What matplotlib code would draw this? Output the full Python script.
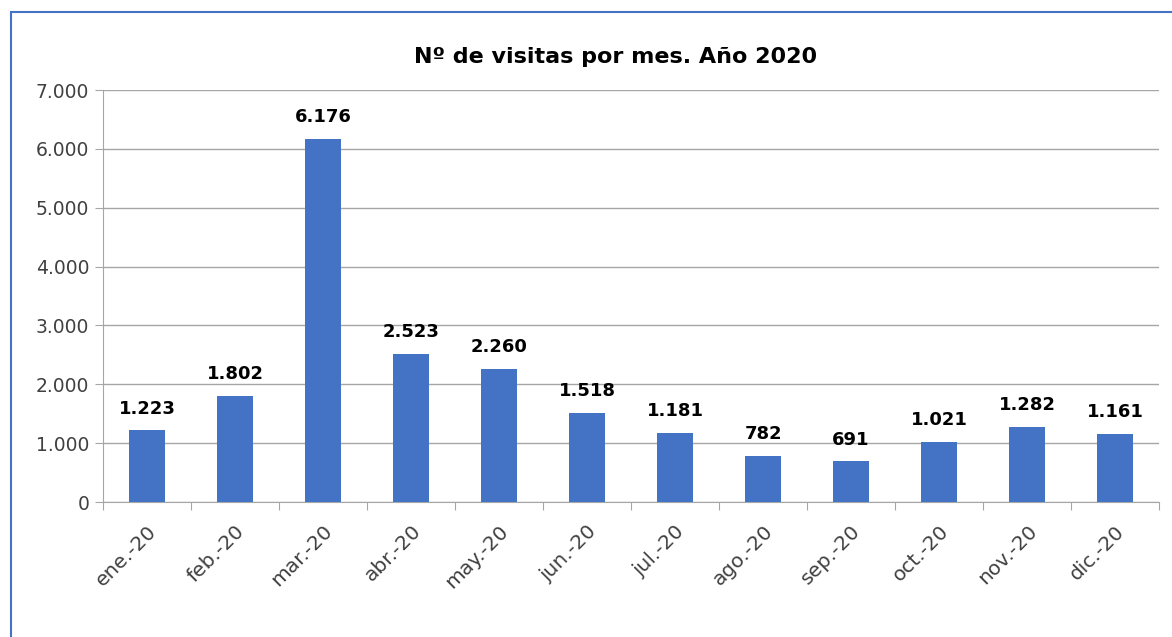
import matplotlib.pyplot as plt
from matplotlib.patches import Rectangle
from matplotlib.ticker import FuncFormatter

meses = ["ene.-20", "feb.-20", "mar.-20", "abr.-20", "may.-20", "jun.-20",
         "jul.-20", "ago.-20", "sep.-20", "oct.-20", "nov.-20", "dic.-20"]
visitas = [1223, 1802, 6176, 2523, 2260, 1518, 1181, 782, 691, 1021, 1282, 1161]


def miles(v, pos=None):
    return f"{int(v):,}".replace(",", ".")


plt.rcParams['font.family'] = ['DejaVu Sans']

fig = plt.figure(figsize=(11.72, 6.37), dpi=100)
ax = fig.add_axes([0.0879, 0.2119, 0.9011, 0.6468])

# marco azul del grafico
fig.patches.append(Rectangle((0.0094, -0.1), 1.2, 1.081, transform=fig.transFigure,
                             fill=False, edgecolor="#4472C4", linewidth=1.5))

x = range(len(meses))
bars = ax.bar(x, visitas, width=0.41, color="#4472C4", zorder=3)

for b, v in zip(bars, visitas):
    ax.annotate(miles(v), (b.get_x() + b.get_width() / 2, v), xytext=(0, 9),
                textcoords="offset points", ha="center", va="bottom",
                fontsize=13, fontweight="bold", color="black")

ax.set_xlim(-0.5, len(meses) - 0.5)
ax.set_ylim(0, 7000)
ax.set_yticks(range(0, 7001, 1000))
ax.yaxis.set_major_formatter(FuncFormatter(miles))
ax.grid(axis="y", color="#A6A6A6", linewidth=1, zorder=0)

ax.set_xticks([i - 0.5 for i in range(len(meses) + 1)], minor=False)
ax.set_xticklabels([])
ax.set_xticks(list(x), minor=True)
ax.set_xticklabels(meses, minor=True, rotation=45, ha="right",
                   rotation_mode="anchor", fontsize=14.5, color="#404040")
ax.tick_params(axis="x", which="minor", length=0, pad=14)
ax.tick_params(axis="x", which="major", length=6, color="#A6A6A6")
ax.tick_params(axis="y", length=6, color="#A6A6A6", labelsize=13.5,
               labelcolor="#404040", pad=4)

for s in ["top", "right"]:
    ax.spines[s].set_visible(False)
ax.spines["left"].set_color("#A6A6A6")
ax.spines["bottom"].set_color("#A6A6A6")

fig.text(0.525, 0.91, "Nº de visitas por mes. Año 2020", ha="center", va="center",
         fontsize=16, fontweight="bold", color="black")

fig.savefig("out.png", dpi=100)
